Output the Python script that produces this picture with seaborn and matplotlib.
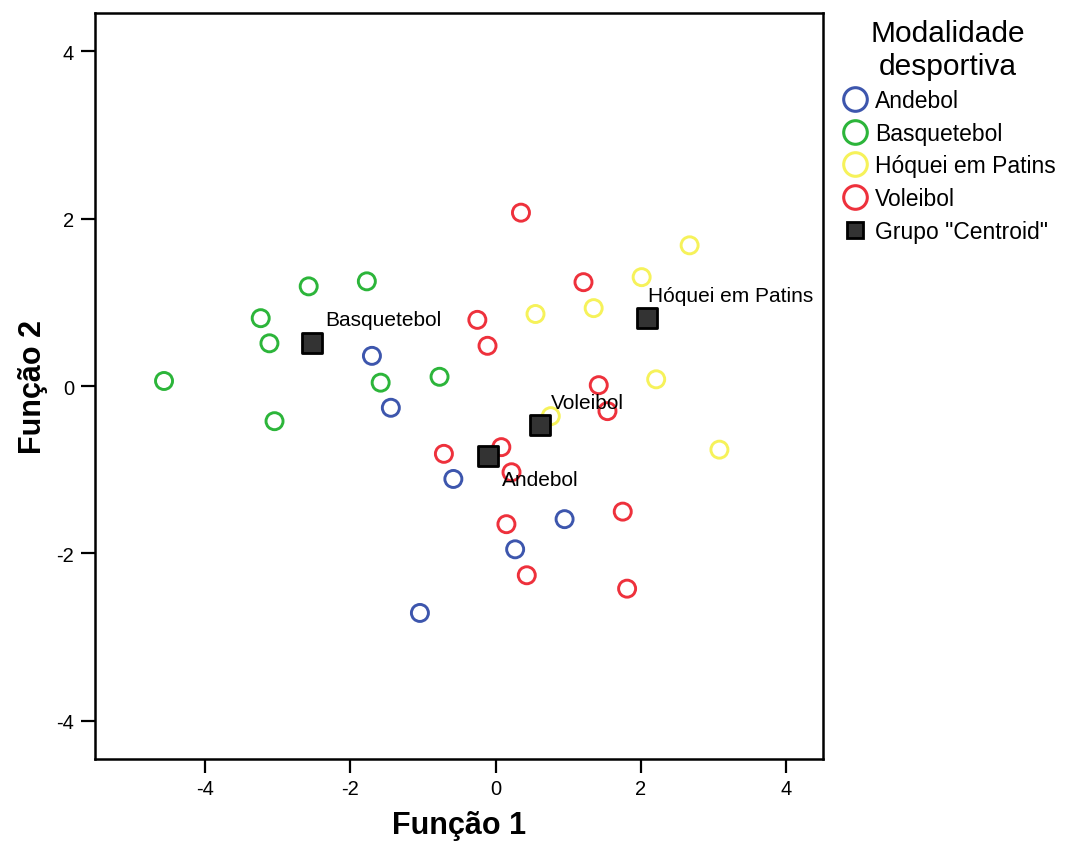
import numpy as np
import pandas as pd
import matplotlib
matplotlib.use("Agg")
import matplotlib.pyplot as plt
from matplotlib.lines import Line2D
import seaborn as sns

# ---- data ----
andebol_x = [-1.70, -1.44, -0.58, 0.95, 0.27, -1.04]
andebol_y = [0.36, -0.26, -1.11, -1.59, -1.95, -2.71]
basquete_x = [-4.56, -3.23, -3.11, -2.57, -1.77, -1.58, -3.04, -0.77]
basquete_y = [0.06, 0.81, 0.51, 1.19, 1.25, 0.04, -0.42, 0.11]
hoquei_x = [2.67, 2.01, 1.35, 0.55, 2.21, 0.76, 3.08]
hoquei_y = [1.68, 1.30, 0.93, 0.86, 0.08, -0.36, -0.76]
voleibol_x = [0.35, 1.21, -0.25, -0.11, 1.42, 1.54, -0.71, 0.08, 0.22, 1.75, 0.15, 0.43, 1.81]
voleibol_y = [2.07, 1.24, 0.79, 0.48, 0.01, -0.30, -0.81, -0.73, -1.03, -1.50, -1.65, -2.26, -2.42]

groups = ["Andebol", "Basquetebol", "Hóquei em Patins", "Voleibol"]
centroid_x = [-0.10, -2.53, 2.08, 0.61]
centroid_y = [-0.83, 0.51, 0.81, -0.46]
ticks = [-4, -2, 0, 2, 4]

colors = ["#3d56ad", "#2cb53a", "#f6f25a", "#ee313c"]

df = pd.concat([
    pd.DataFrame({"x": andebol_x, "y": andebol_y, "g": groups[0]}),
    pd.DataFrame({"x": basquete_x, "y": basquete_y, "g": groups[1]}),
    pd.DataFrame({"x": hoquei_x, "y": hoquei_y, "g": groups[2]}),
    pd.DataFrame({"x": voleibol_x, "y": voleibol_y, "g": groups[3]}),
], ignore_index=True)
cdf = pd.DataFrame({"x": centroid_x, "y": centroid_y, "g": groups})

sns.set_style("white")
plt.rcParams["font.family"] = ["Liberation Sans", "DejaVu Sans"]
plt.rcParams["text.color"] = "black"
plt.rcParams["axes.labelcolor"] = "black"
plt.rcParams["xtick.color"] = "black"
plt.rcParams["ytick.color"] = "black"

fig = plt.figure(figsize=(10.67, 8.45), dpi=100)
ax = fig.add_axes([0.089, 0.101, 0.682, 0.882])

pal = dict(zip(groups, colors))
sns.scatterplot(data=df, x="x", y="y", hue="g", palette=pal, s=150,
                linewidth=2.1, ax=ax, legend=False, zorder=3)
coll = ax.collections[0]
fc = coll.get_facecolors()
coll.set_edgecolors(fc)
coll.set_facecolors("none")

sns.scatterplot(data=cdf, x="x", y="y", marker="s", s=190, color="#333333",
                edgecolor="black", linewidth=2.0, ax=ax, legend=False, zorder=4)

offsets = {"Andebol": (10, -17), "Basquetebol": (10, 17),
           "Hóquei em Patins": (1, 16), "Voleibol": (8, 16)}
for gx, gy, g in zip(centroid_x, centroid_y, groups):
    ax.annotate(g, (gx, gy), xytext=offsets[g], textcoords="offset points",
                ha="left", va="center", fontsize=15, color="black", zorder=5)

ax.set_xlim(-5.51, 4.5)
ax.set_ylim(-4.45, 4.45)
ax.set_xticks(ticks)
ax.set_yticks(ticks)
ax.set_xticklabels([str(t) for t in ticks], fontsize=14.5)
ax.set_yticklabels([str(t) for t in ticks], fontsize=14.5)
ax.tick_params(axis="both", direction="out", length=10, width=1.6, color="black",
               bottom=True, left=True, top=False, right=False, pad=5)
for sp in ax.spines.values():
    sp.set_color("black")
    sp.set_linewidth(1.8)
ax.set_xlabel("Função 1", fontsize=22, fontweight="bold", labelpad=8)
ax.set_ylabel("Função 2", fontsize=22, fontweight="bold", labelpad=6)

handles = [Line2D([], [], marker="o", linestyle="none", markerfacecolor="none",
                  markeredgecolor=c, markeredgewidth=2.2, markersize=17) for c in colors]
handles.append(Line2D([], [], marker="s", linestyle="none", markerfacecolor="#333333",
                      markeredgecolor="black", markeredgewidth=2, markersize=12))
labels = groups + ['Grupo "Centroid"']
leg = fig.legend(handles, labels, title="Modalidade\ndesportiva", loc="upper left",
                 bbox_to_anchor=(0.778, 0.987), frameon=False, fontsize=16.5,
                 title_fontsize=21.5, handletextpad=0.15, labelspacing=0.42,
                 borderaxespad=0, handlelength=1.4)
leg.get_title().set_multialignment("center")

fig.savefig("out.png", dpi=100)
